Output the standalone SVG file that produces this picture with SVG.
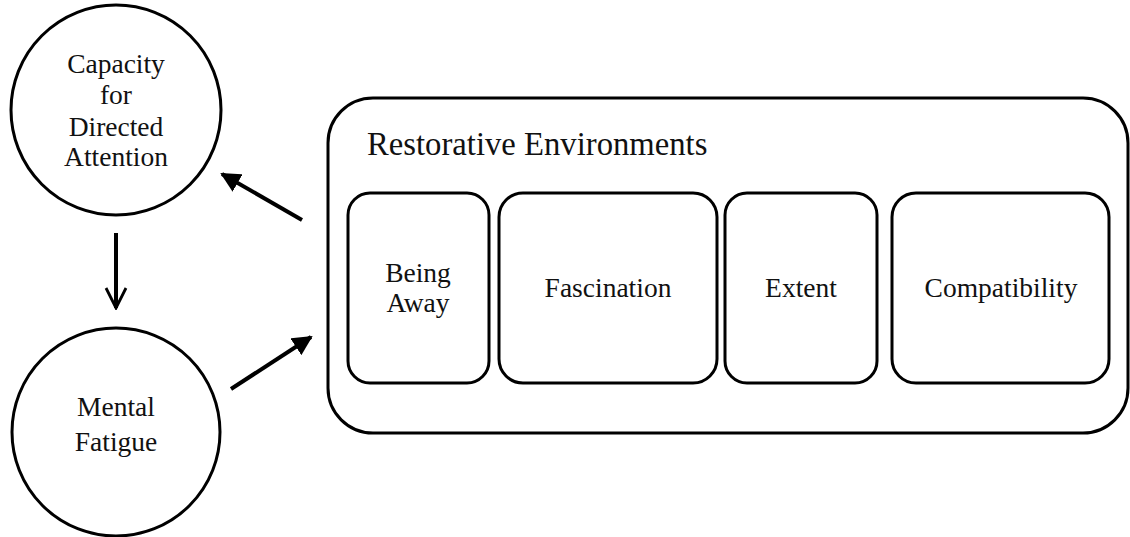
<svg xmlns="http://www.w3.org/2000/svg" width="1130" height="537" viewBox="0 0 1130 537">
<style>
.shape{fill:#fff;stroke:#000;stroke-width:3}
.t{font-family:"Liberation Serif","Times New Roman",serif;font-size:27.5px;fill:#111;text-anchor:middle}
.title{font-family:"Liberation Serif","Times New Roman",serif;font-size:32.7px;fill:#111}
.conn{stroke:#000;stroke-width:4;fill:none}
</style>
<defs>
<marker id="tri" viewBox="0 0 10 10" refX="9" refY="5" markerWidth="5" markerHeight="5" orient="auto" markerUnits="strokeWidth">
<path d="M0,0 L10,5 L0,10 Z" fill="#000"/>
</marker>
<marker id="chev" viewBox="0 0 12 12" refX="11" refY="6" markerWidth="6" markerHeight="6" orient="auto" markerUnits="strokeWidth">
<path d="M1,1 L11,6 L1,11" fill="none" stroke="#000" stroke-width="1.4"/>
</marker>
</defs>
<rect width="1130" height="537" fill="#fff"/>
<g id="capacity">
<circle class="shape" cx="116" cy="110" r="105"/>
<text class="t" x="116" y="73">Capacity</text>
<text class="t" x="116" y="104">for</text>
<text class="t" x="116" y="136">Directed</text>
<text class="t" x="116" y="166">Attention</text>
</g>
<g id="fatigue">
<circle class="shape" cx="116" cy="432" r="104"/>
<text class="t" x="116" y="416">Mental</text>
<text class="t" x="116" y="451">Fatigue</text>
</g>
<g id="restorative">
<rect class="shape" x="328" y="98" width="800" height="335" rx="45" ry="45"/>
<text class="title" x="367" y="155">Restorative Environments</text>
</g>
<g id="being-away">
<rect class="shape" x="348" y="193" width="141" height="190" rx="22" ry="22"/>
<text class="t" x="418" y="282">Being</text>
<text class="t" x="418" y="312">Away</text>
</g>
<g id="fascination">
<rect class="shape" x="499" y="193" width="218" height="190" rx="24" ry="24"/>
<text class="t" x="608" y="297">Fascination</text>
</g>
<g id="extent">
<rect class="shape" x="725" y="193" width="152" height="190" rx="22" ry="22"/>
<text class="t" x="801" y="297">Extent</text>
</g>
<g id="compatibility">
<rect class="shape" x="892" y="193" width="217" height="190" rx="24" ry="24"/>
<text class="t" x="1001" y="297">Compatibility</text>
</g>
<g id="connectors">
<line class="conn" x1="116" y1="233" x2="116" y2="308" marker-end="url(#chev)"/>
<line class="conn" x1="302" y1="220" x2="222" y2="174" marker-end="url(#tri)"/>
<line class="conn" x1="231" y1="389" x2="311" y2="337" marker-end="url(#tri)"/>
</g>
</svg>
